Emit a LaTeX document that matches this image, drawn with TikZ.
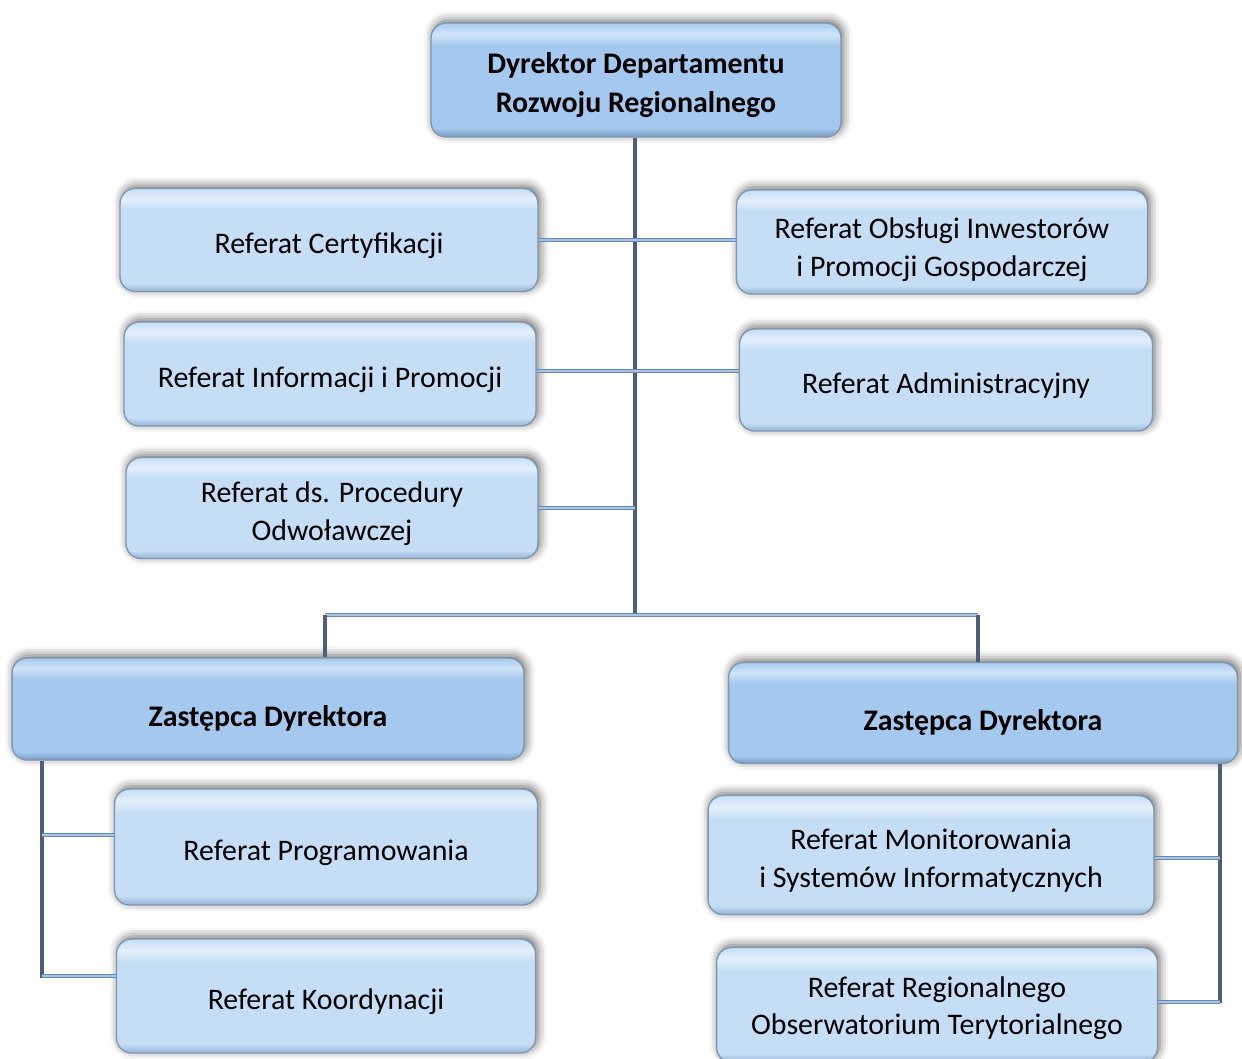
\documentclass[tikz,border=0pt]{standalone}
\usepackage{fontspec}
\setmainfont{Carlito}
\usetikzlibrary{shadows.blur}
\definecolor{reftop}{RGB}{228,240,252}
\definecolor{refmid}{RGB}{197,222,245}
\definecolor{refbot}{RGB}{150,180,214}
\definecolor{dirtop}{RGB}{208,229,249}
\definecolor{dirmid}{RGB}{165,201,238}
\definecolor{dirbot}{RGB}{120,154,196}
\definecolor{boxedge}{RGB}{130,150,175}
\definecolor{trunkcol}{RGB}{78,94,116}
\definecolor{branchedge}{RGB}{105,138,175}
\definecolor{branchfill}{RGB}{168,196,224}
\pgfdeclareverticalshading{refshade}{100bp}{color(0bp)=(refbot); color(25bp)=(refbot); color(29bp)=(refmid); color(65bp)=(refmid); color(70bp)=(reftop); color(75bp)=(refmid); color(100bp)=(refmid)}
\pgfdeclareverticalshading{dirshade}{100bp}{color(0bp)=(dirbot); color(25bp)=(dirbot); color(29bp)=(dirmid); color(65bp)=(dirmid); color(70bp)=(dirtop); color(75bp)=(dirmid); color(100bp)=(dirmid)}
\begin{document}
\begin{tikzpicture}[
		x=0.02cm, y=-0.02cm,
		box/.style={rectangle, rounded corners=0.3cm, draw=boxedge, line width=0.8pt,
			shading=refshade,
			blur shadow={shadow xshift=1.2pt, shadow yshift=1.5pt, shadow blur radius=5pt, shadow opacity=60},
			align=center, inner sep=0, text height=19.6pt, text depth=4pt,
			font=\fontsize{17}{21.5}\selectfont},
		twoline/.style={text height=40.5pt},
		head/.style={box, shading=dirshade, text height=24pt,
			font=\fontsize{17}{22.5}\selectfont\bfseries},
		vline/.style={draw=trunkcol, line width=1.8pt},
		hline/.style={draw=branchedge, line width=0.7pt, double=branchfill, double distance=1.4pt},
	]
	\useasboundingbox (0,0) rectangle (1242,1059);
	\node[head, text height=41.5pt, minimum width=8.2cm, minimum height=2.28cm] (dyrektor) at (636,80) {Dyrektor Departamentu\\Rozwoju Regionalnego};
	\node[box, minimum width=8.36cm, minimum height=2.06cm] (certyfikacja) at (329,240) {Referat Certyfikacji};
	\node[box, twoline, text height=43pt, minimum width=8.22cm, minimum height=2.08cm] (obslugi) at (942,242) {Referat Obsługi Inwestorów\\i Promocji Gospodarczej};
	\node[box, minimum width=8.24cm, minimum height=2.08cm] (informacja) at (330,374) {Referat Informacji i Promocji};
	\node[box, minimum width=8.26cm, minimum height=2.04cm] (administracja) at (946,380) {Referat Administracyjny};
	\node[box, twoline, minimum width=8.24cm, minimum height=2.02cm] (procedura) at (332,508) {Referat ds. Procedury\\Odwoławczej};
	\node[head, minimum width=10.24cm, minimum height=2.04cm] (zastepca1) at (268,709) {Zastępca Dyrektora};
	\node[head, minimum width=10.18cm, minimum height=2.02cm] (zastepca2) at (983,713) {Zastępca Dyrektora};
	\node[box, minimum width=8.46cm, minimum height=2.32cm] (programowanie) at (326,847) {Referat Programowania};
	\node[box, minimum width=8.38cm, minimum height=2.28cm] (koordynacja) at (326,996) {Referat Koordynacji};
	\node[box, twoline, minimum width=8.92cm, minimum height=2.38cm] (monitorowanie) at (931,855) {Referat Monitorowania\\i Systemów Informatycznych};
	\node[box, twoline, text height=38pt, minimum width=8.82cm, minimum height=2.3cm] (obserwatorium) at (937,1005) {Referat Regionalnego\\Obserwatorium Terytorialnego};
	% connectors
	\coordinate (bus) at (635,615);
	\coordinate (busL) at (325,615);
	\coordinate (busR) at (978,615);
	\coordinate (spineL) at (42,978);
	\coordinate (spineR) at (1220,1003);
	\draw[vline] (dyrektor.south -| bus) -- (bus);
	\draw[hline] (certyfikacja.east) -- (obslugi.west |- certyfikacja.east);
	\draw[hline] ([yshift=0.06cm]informacja.east) -- ([yshift=0.06cm]informacja.east -| administracja.west);
	\draw[hline] (procedura.east) -- (procedura.east -| bus);
	\draw[hline] (busL) -- (busR);
	\draw[vline] (busL) -- (busL |- zastepca1.north);
	\draw[vline] (busR) -- (busR |- zastepca2.north);
	\draw[vline] (spineL |- zastepca1.south) -- (spineL);
	\draw[hline] ([yshift=0.24cm]programowanie.west -| spineL) -- ([yshift=0.24cm]programowanie.west);
	\draw[hline] ([yshift=0.4cm]koordynacja.west -| spineL) -- ([yshift=0.4cm]koordynacja.west);
	\draw[vline] (spineR |- zastepca2.south) -- (spineR);
	\draw[hline] ([yshift=-0.06cm]monitorowanie.east) -- ([yshift=-0.06cm]monitorowanie.east -| spineR);
	\draw[hline] ([yshift=0.06cm]obserwatorium.east) -- ([yshift=0.06cm]obserwatorium.east -| spineR);
\end{tikzpicture}
\end{document}
